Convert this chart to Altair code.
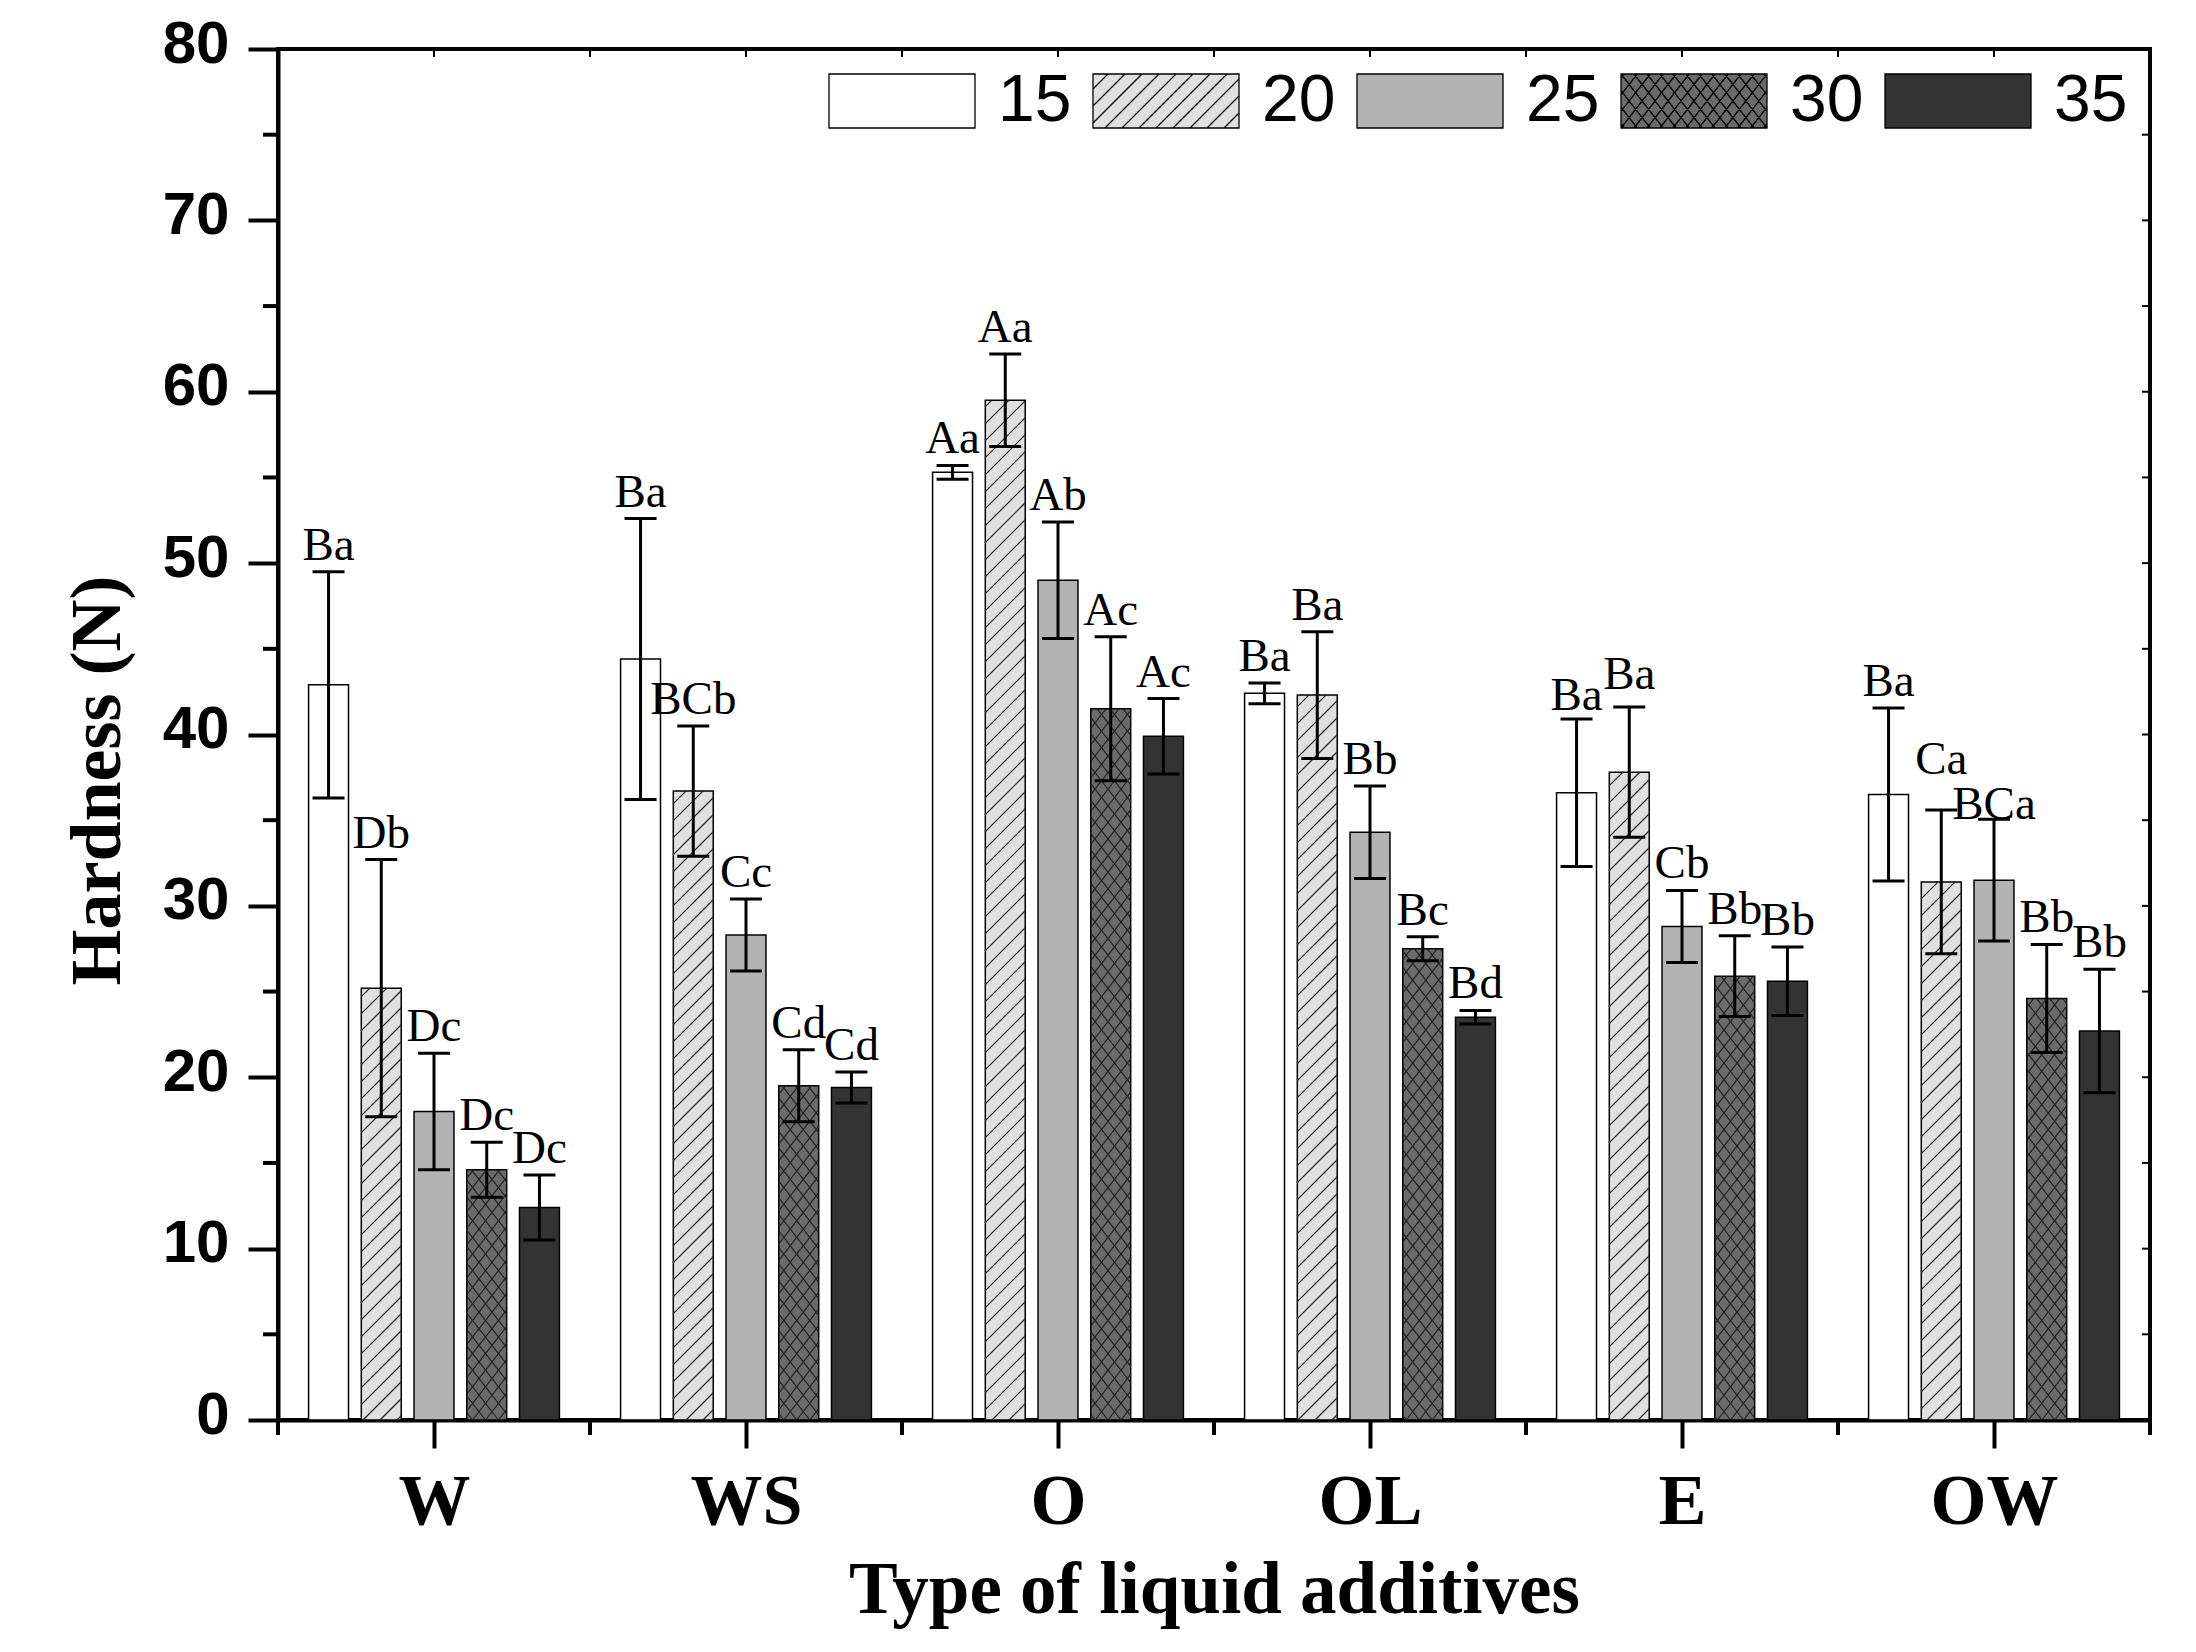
import math
import altair as alt
import pandas as pd

# groups on the x axis and temperature series
groups = ['W', 'WS', 'O', 'OL', 'E', 'OW']
temps = ['15', '20', '25', '30', '35']

# hardness (N) per series, one value per group
h15 = [42.9, 44.4, 55.3, 42.4, 36.6, 36.5]
h20 = [25.2, 36.7, 59.5, 42.3, 37.8, 31.4]
h25 = [18.0, 28.3, 49.0, 34.3, 28.8, 31.5]
h30 = [14.6, 19.5, 41.5, 27.5, 25.9, 24.6]
h35 = [12.4, 19.4, 39.9, 23.5, 25.6, 22.7]

# error bar half widths
e15 = [6.6, 8.2, 0.4, 0.6, 4.3, 5.05]
e20 = [7.5, 3.8, 2.7, 3.7, 3.8, 4.2]
e25 = [3.4, 2.1, 3.4, 2.7, 2.1, 3.55]
e30 = [1.6, 2.1, 4.2, 0.7, 2.35, 3.15]
e35 = [1.9, 0.9, 2.2, 0.4, 2.0, 3.6]

# significance letters
l15 = ['Ba', 'Ba', 'Aa', 'Ba', 'Ba', 'Ba']
l20 = ['Db', 'BCb', 'Aa', 'Ba', 'Ba', 'Ca']
l25 = ['Dc', 'Cc', 'Ab', 'Bb', 'Cb', 'BCa']
l30 = ['Dc', 'Cd', 'Ac', 'Bc', 'Bb', 'Bb']
l35 = ['Dc', 'Cd', 'Ac', 'Bd', 'Bb', 'Bb']

fills = ['#ffffff', '#e0e0e0', '#b3b3b3', '#6b6b6b', '#333333']

PLOT_W, PLOT_H = 1872, 1371
YMAX = 80
PX_X = PLOT_W / len(groups)
PX_Y = PLOT_H / YMAX
PITCH, BAR_W, CAP_W = 0.169, 0.128, 0.1026
LABEL_GAP = 12  # px between cap and letter baseline

# a few letters sit higher/lower than the default gap above the error cap
label_nudge = {('OW', '20'): 24, ('OW', '25'): -12, ('E', '20'): 6, ('E', '15'): -3}

values = [h15, h20, h25, h30, h35]
errors = [e15, e20, e25, e30, e35]
letters = [l15, l20, l25, l30, l35]


def hatch(x0, x1, y0, y1, slope, step):
    # line segments y = slope*x + c clipped to the box, c on a fixed grid
    cs = [y0 - slope * x1, y1 - slope * x0, y0 - slope * x0, y1 - slope * x1]
    k = math.ceil(min(cs) / step)
    segs = []
    while k * step <= max(cs):
        c = k * step
        xa, xb = sorted([(y0 - c) / slope, (y1 - c) / slope])
        xa, xb = max(xa, x0), min(xb, x1)
        if xb - xa > 0.5:
            segs.append((xa, slope * xa + c, xb, slope * xb + c))
        k += 1
    return segs


patterns = {
    '20': [(1.0, 17.0)],
    '30': [(1.28, 16.6), (-1.28, 16.6)],
}

bars, hatches, errs, caps = [], [], [], []
for ti, t in enumerate(temps):
    for gi, g in enumerate(groups):
        xc = gi + (ti - 2) * PITCH
        v, e = values[ti][gi], errors[ti][gi]
        bars.append({'temp': t, 'group': g, 'x0': xc - BAR_W / 2, 'x1': xc + BAR_W / 2,
                     'v': v, 'base': 0, 'fill': fills[ti]})
        lift = (LABEL_GAP + label_nudge.get((g, t), 0)) / PX_Y
        errs.append({'xc': xc, 'lo': v - e, 'hi': v + e, 'ly': v + e + lift,
                     'label': letters[ti][gi]})
        for yy in (v - e, v + e):
            caps.append({'a': xc - CAP_W / 2, 'b': xc + CAP_W / 2, 'y': yy})
        for slope, step in patterns.get(t, []):
            px0 = (xc - BAR_W / 2 + 0.5) * PX_X
            px1 = (xc + BAR_W / 2 + 0.5) * PX_X
            for xa, ya, xb, yb in hatch(px0, px1, 0, v * PX_Y, slope, step):
                hatches.append({'xa': xa / PX_X - 0.5, 'xb': xb / PX_X - 0.5,
                                'ya': ya / PX_Y, 'yb': yb / PX_Y})

bar_df = pd.DataFrame(bars)
hatch_df = pd.DataFrame(hatches)
err_df = pd.DataFrame(errs)
cap_df = pd.DataFrame(caps)


# legend swatches: rectangles with the same hatching, in symbol units
HALF = 73.0
BOX_H = 27.0
swatch = 'M-1,{0:.3f}L1,{0:.3f}L1,{1:.3f}L-1,{1:.3f}Z'.format(-BOX_H / HALF, BOX_H / HALF)
paths = []
for t in temps:
    p = swatch
    for slope, step in patterns.get(t, []):
        for xa, ya, xb, yb in hatch(-HALF, HALF, -BOX_H, BOX_H, slope, step):
            p += 'M{:.3f},{:.3f}L{:.3f},{:.3f}'.format(xa / HALF, -ya / HALF, xb / HALF, -yb / HALF)
    paths.append(p)

xscale = alt.Scale(domain=[-0.5, len(groups) - 0.5], nice=False, zero=False)
yscale = alt.Scale(domain=[0, YMAX], nice=False)

label_expr = '[' + ','.join("'%s'" % g for g in groups) + '][datum.value]'

x_axis = alt.Axis(values=list(range(len(groups))), labelExpr=label_expr, grid=False,
                  tickSize=28, tickWidth=4, tickColor='black', domainWidth=4, domainColor='black',
                  labelFont='Liberation Serif', labelFontWeight='bold', labelFontSize=72,
                  labelColor='black', labelBaseline='alphabetic', labelPadding=75,
                  title='Type of liquid additives', titleFont='Liberation Serif',
                  titleFontWeight='bold', titleFontSize=73, titleColor='black',
                  titleBaseline='alphabetic', titleY=192)
y_axis = alt.Axis(values=list(range(0, YMAX + 1, 10)), grid=False,
                  tickSize=30, tickWidth=4, tickColor='black', domainWidth=4, domainColor='black',
                  labelFont='Liberation Sans', labelFontWeight='bold', labelFontSize=60,
                  labelColor='black', labelPadding=19, labelOffset=-5,
                  title='Hardness (N)', titleFont='Liberation Serif', titleFontWeight='bold',
                  titleFontSize=72, titleColor='black', titleAngle=270,
                  titleBaseline='alphabetic', titleX=-159, titleY=731)

bar_layer = alt.Chart(bar_df).mark_rect(stroke='black', strokeWidth=1.5).encode(
    x=alt.X('x0:Q', scale=xscale, axis=x_axis),
    x2='x1:Q',
    y=alt.Y('v:Q', scale=yscale, axis=y_axis),
    y2='base:Q',
    fill=alt.Fill('fill:N', scale=None),
)

hatch_layer = alt.Chart(hatch_df).mark_rule(color='#222222', strokeWidth=1.2).encode(
    x='xa:Q', x2='xb:Q', y='ya:Q', y2='yb:Q'
)

err_layer = alt.Chart(err_df).mark_rule(color='black', strokeWidth=3).encode(
    x='xc:Q', y='lo:Q', y2='hi:Q'
)

cap_layer = alt.Chart(cap_df).mark_rule(color='black', strokeWidth=3).encode(
    x='a:Q', x2='b:Q', y='y:Q'
)

text_layer = alt.Chart(err_df).mark_text(
    font='Liberation Serif', fontSize=47, baseline='alphabetic', align='center',
    color='black'
).encode(x='xc:Q', y='ly:Q', text='label:N')

# minor ticks
y_minor = pd.DataFrame({'v': list(range(5, YMAX, 10))})
y_all = pd.DataFrame({'v': list(range(5, YMAX, 5))})
x_minor = pd.DataFrame({'v': [i - 0.5 for i in range(len(groups) + 1)]})
x_half = pd.DataFrame({'v': [i * 0.5 for i in range(2 * len(groups) - 1)]})

left_minor = alt.Chart(y_minor).mark_rule(color='black', strokeWidth=4).encode(
    y='v:Q', x=alt.value(-15), x2=alt.value(0))
right_ticks = alt.Chart(y_all).mark_rule(color='black', strokeWidth=2).encode(
    y='v:Q', x=alt.value(PLOT_W - 8), x2=alt.value(PLOT_W))
bottom_minor = alt.Chart(x_minor).mark_rule(color='black', strokeWidth=4).encode(
    x='v:Q', y=alt.value(PLOT_H), y2=alt.value(PLOT_H + 15))
top_ticks = alt.Chart(x_half).mark_rule(color='black', strokeWidth=2).encode(
    x='v:Q', y=alt.value(0), y2=alt.value(8))

legend = alt.Legend(orient='none', legendX=550, legendY=-22, direction='horizontal',
                    title=None, padding=0, labelFont='Liberation Sans', labelFontSize=66,
                    labelColor='black', labelOffset=22, columnPadding=18,
                    symbolSize=(2 * HALF) ** 2, symbolStrokeColor='black',
                    symbolStrokeWidth=1.3)

legend_layer = alt.Chart(pd.DataFrame({'temp': temps})).transform_filter('false').mark_point(
    filled=True, stroke='black', strokeWidth=1.3, opacity=1
).encode(
    color=alt.Color('temp:N', scale=alt.Scale(domain=temps, range=fills), legend=legend),
    shape=alt.Shape('temp:N', scale=alt.Scale(domain=temps, range=paths), legend=legend),
)

chart = alt.layer(
    bar_layer, hatch_layer, err_layer, cap_layer, text_layer,
    left_minor, right_ticks, bottom_minor, top_ticks, legend_layer
).properties(
    width=PLOT_W, height=PLOT_H,
    autosize=alt.AutoSizeParams(type='none'),
    padding={'left': 270, 'top': 41, 'right': 30, 'bottom': 215},
    background='white'
).configure_view(
    stroke='black', strokeWidth=4
)

chart.save('out.html', embed_options={'renderer': 'svg', 'actions': False})
